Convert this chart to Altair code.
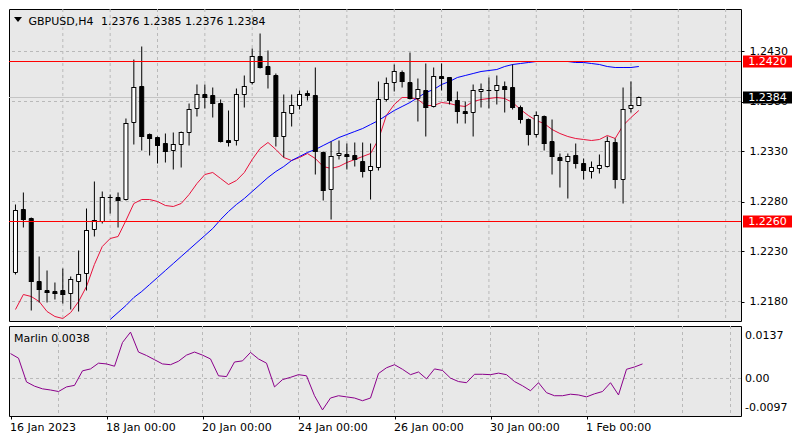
import altair as alt
import pandas as pd

# ---------------- data ----------------
symbol = "GBPUSD,H4"
tick_bars = [0, 12, 24, 36, 48, 60, 72]
tick_labels = ["16 Jan 2023", "18 Jan 00:00", "20 Jan 00:00", "24 Jan 00:00",
               "26 Jan 00:00", "30 Jan 00:00", "1 Feb 00:00"]
grid_bars = [6, 12, 18, 24, 30, 36, 42, 48, 54, 60, 66, 72, 78, 84, 90]
price_ticks = [1.2180, 1.2230, 1.2280, 1.2330, 1.2380, 1.2430]
levels = [1.2420, 1.2260]
osc_ticks = [0.0137, 0.0, -0.0097]
osc_tick_labels = ["0.0137", "0.00", "-0.0097"]

open_ = [1.2209, 1.2272, 1.2263, 1.2200, 1.2191, 1.2190, 1.2191, 1.2188, 1.2200, 1.2208,
         1.2252, 1.2260, 1.2284, 1.2284, 1.2282, 1.2359, 1.2395, 1.2347, 1.2344, 1.2338,
         1.2331, 1.2337, 1.2349, 1.2373, 1.2387, 1.2386, 1.2378, 1.2341, 1.2341, 1.2387,
         1.2399, 1.2425, 1.2415, 1.2406, 1.2345, 1.2368, 1.2376, 1.2388, 1.2386, 1.2329,
         1.2292, 1.2326, 1.2327, 1.2326, 1.2320, 1.2311, 1.2314, 1.2382, 1.2399, 1.2409,
         1.2399, 1.2383, 1.2391, 1.2375, 1.2405, 1.2404, 1.2381, 1.2370, 1.2369, 1.2390,
         1.2391, 1.2391, 1.2395, 1.2394, 1.2374, 1.2362, 1.2347, 1.2365, 1.2340, 1.2324,
         1.2320, 1.2326, 1.2318, 1.2310, 1.2313, 1.2315, 1.2339, 1.2302, 1.2373, 1.2376]
high = [1.2277, 1.2289, 1.2264, 1.2225, 1.2211, 1.2199, 1.2213, 1.2205, 1.2231, 1.2273,
        1.2300, 1.2290, 1.2287, 1.2289, 1.2363, 1.2422, 1.2435, 1.2348, 1.2345, 1.2348,
        1.2349, 1.2350, 1.2378, 1.2397, 1.2397, 1.2394, 1.2382, 1.2371, 1.2393, 1.2406,
        1.2433, 1.2448, 1.2431, 1.2408, 1.2387, 1.2387, 1.2391, 1.2391, 1.2414, 1.2330,
        1.2340, 1.2341, 1.2338, 1.2339, 1.2339, 1.2338, 1.2400, 1.2404, 1.2417, 1.2411,
        1.2429, 1.2403, 1.2418, 1.2414, 1.2418, 1.2404, 1.2390, 1.2380, 1.2397, 1.2398,
        1.2404, 1.2406, 1.2400, 1.2417, 1.2376, 1.2363, 1.2370, 1.2366, 1.2362, 1.2328,
        1.2328, 1.2338, 1.2323, 1.2320, 1.2327, 1.2345, 1.2343, 1.2394, 1.2400, 1.2385]
low = [1.2207, 1.2254, 1.2171, 1.2179, 1.2179, 1.2182, 1.2178, 1.2172, 1.2170, 1.2191,
       1.2245, 1.2258, 1.2268, 1.2254, 1.2281, 1.2337, 1.2331, 1.2326, 1.2318, 1.2319,
       1.2312, 1.2314, 1.2336, 1.2365, 1.2373, 1.2364, 1.2339, 1.2335, 1.2336, 1.2374,
       1.2397, 1.2413, 1.2393, 1.2335, 1.2324, 1.2355, 1.2372, 1.2381, 1.2307, 1.2281,
       1.2262, 1.2322, 1.2312, 1.2315, 1.2304, 1.2282, 1.2311, 1.2380, 1.2390, 1.2394,
       1.2382, 1.2360, 1.2345, 1.2374, 1.2391, 1.2377, 1.2358, 1.2358, 1.2345, 1.2374,
       1.2373, 1.2377, 1.2369, 1.2372, 1.2358, 1.2336, 1.2344, 1.2331, 1.2307, 1.2294,
       1.2283, 1.2313, 1.2302, 1.2303, 1.2308, 1.2314, 1.2293, 1.2278, 1.2369, 1.2376]
close = [1.2271, 1.2262, 1.2200, 1.2192, 1.2189, 1.2188, 1.2187, 1.2202, 1.2207, 1.2251,
         1.2261, 1.2284, 1.2284, 1.2281, 1.2358, 1.2394, 1.2345, 1.2343, 1.2336, 1.2330,
         1.2337, 1.2349, 1.2372, 1.2387, 1.2384, 1.2378, 1.2340, 1.2339, 1.2387, 1.2395,
         1.2425, 1.2414, 1.2407, 1.2345, 1.2369, 1.2376, 1.2387, 1.2386, 1.2330, 1.2291,
         1.2325, 1.2328, 1.2325, 1.2322, 1.2310, 1.2315, 1.2382, 1.2398, 1.2410, 1.2400,
         1.2383, 1.2392, 1.2374, 1.2405, 1.2403, 1.2381, 1.2370, 1.2368, 1.2391, 1.2392,
         1.2391, 1.2396, 1.2392, 1.2374, 1.2362, 1.2347, 1.2366, 1.2338, 1.2325, 1.2321,
         1.2325, 1.2318, 1.2311, 1.2314, 1.2316, 1.2340, 1.2302, 1.2372, 1.2376, 1.2384]
ma_fast = [1.2172, 1.2187, 1.2185, 1.2180, 1.2170, 1.2165, 1.2163, 1.2169, 1.2180, 1.2195,
           1.2217, 1.2235, 1.2243, 1.2245, 1.2261, 1.2278, 1.2282, 1.2282, 1.2280, 1.2276,
           1.2275, 1.2278, 1.2287, 1.2298, 1.2307, 1.2309, 1.2303, 1.2297, 1.2301, 1.2309,
           1.2322, 1.2333, 1.2339, 1.2332, 1.2324, 1.2321, 1.2324, 1.2328, 1.2323, 1.2315,
           1.2313, 1.2315, 1.2319, 1.2322, 1.2325, 1.2328, 1.2342, 1.2366, 1.2377, 1.2384,
           1.2384, 1.2382, 1.2376, 1.2376, 1.2379, 1.2378, 1.2376, 1.2375, 1.2380, 1.2382,
           1.2383, 1.2384, 1.2383, 1.2379, 1.2372, 1.2366, 1.2361, 1.2358, 1.2352, 1.2348,
           1.2345, 1.2343, 1.2342, 1.2341, 1.2342, 1.2346, 1.2343, 1.2356, 1.2364, 1.2371]
ma_slow_start = 12
ma_slow = [1.2162, 1.2169, 1.2176, 1.2184, 1.2190, 1.2197, 1.2204, 1.2211, 1.2218, 1.2225,
           1.2232, 1.2239, 1.2246, 1.2253, 1.2262, 1.2270, 1.2277, 1.2283, 1.2290, 1.2297,
           1.2304, 1.2310, 1.2315, 1.2321, 1.2325, 1.2329, 1.2332, 1.2336, 1.2340, 1.2344,
           1.2347, 1.2350, 1.2353, 1.2357, 1.2361, 1.2366, 1.2371, 1.2375, 1.2379, 1.2384,
           1.2389, 1.2392, 1.2397, 1.2400, 1.2404, 1.2406, 1.2408, 1.2410, 1.2411, 1.2412,
           1.2415, 1.2417, 1.2418, 1.2419, 1.2420, 1.2420, 1.2420, 1.2420, 1.2420, 1.2419,
           1.2419, 1.2418, 1.2417, 1.2415, 1.2414, 1.2414, 1.2414, 1.2415]
marlin = [0.0065, 0.0053, -0.0009, -0.0020, -0.0027, -0.0030, -0.0034, -0.0022, -0.0018, 0.0020,
          0.0025, 0.0040, 0.0038, 0.0032, 0.0094, 0.0121, 0.0069, 0.0060, 0.0049, 0.0038,
          0.0036, 0.0045, 0.0061, 0.0069, 0.0061, 0.0051, 0.0007, 0.0005, 0.0043, 0.0046,
          0.0068, 0.0051, 0.0040, -0.0022, -0.0003, 0.0003, 0.0010, 0.0007, -0.0045, -0.0082,
          -0.0051, -0.0045, -0.0048, -0.0051, -0.0058, -0.0051, 0.0013, 0.0028, 0.0036, 0.0024,
          0.0010, 0.0017, -0.0001, 0.0025, 0.0021, 0.0001, -0.0008, -0.0011, 0.0011, 0.0011,
          0.0010, 0.0014, 0.0010, -0.0008, -0.0019, -0.0032, -0.0011, -0.0037, -0.0045, -0.0045,
          -0.0041, -0.0043, -0.0048, -0.0040, -0.0034, -0.0011, -0.0043, 0.0024, 0.0030, 0.0038]

# ---------------- tables ----------------
n = len(close)
bars = pd.DataFrame({"bar": list(range(n)), "open": open_, "high": high,
                     "low": low, "close": close, "ma_fast": ma_fast, "marlin": marlin})
slow_df = pd.DataFrame({"bar": list(range(ma_slow_start, ma_slow_start + len(ma_slow))),
                        "ma_slow": ma_slow})
grid_df = pd.DataFrame({"bar": grid_bars})
pgrid_df = pd.DataFrame({"price": price_ticks})
level_df = pd.DataFrame({"price": levels})
last_price = close[-1]
box_df = pd.DataFrame({"price": levels + [last_price],
                       "label": [f"{v:.4f}" for v in levels + [last_price]],
                       "kind": ["level"] * len(levels) + ["last"]})
ohlc_text = " ".join(f"{v:.4f}" for v in (open_[-1], high[-1], low[-1], close[-1]))

# ---------------- layout / style ----------------
# 8 px per bar and 1 px per pip so that 1-px lines fall on pixel centres
W, H1, H2 = 732, 312, 90
FONT = "DejaVu Sans"
GRID = "#b9b9b9"
xscale = alt.Scale(domain=[-0.1875, 91.3125], nice=False, zero=False)
yscale = alt.Scale(domain=[1.21605, 1.24725], nice=False, zero=False)
oscale = alt.Scale(domain=[-0.00979, 0.0137], nice=False, zero=False)

X = alt.X("bar:Q", scale=xscale, axis=None)

price_axis = alt.Axis(orient="right", values=price_ticks, format=".4f", grid=False,
                      domain=False, ticks=True, tickSize=3, tickColor="black",
                      labelFont=FONT, labelFontSize=11, labelColor="black",
                      labelPadding=5, title=None, labelOverlap=False, labelFlush=False)


def PY(field):
    return alt.Y(field, scale=yscale, axis=price_axis, title=None)


hgrid = alt.Chart(pgrid_df).mark_rule(color=GRID, strokeDash=[3, 3], strokeWidth=1).encode(
    y=PY("price:Q"))
vgrid = alt.Chart(grid_df).mark_rule(color=GRID, strokeDash=[3, 3], strokeWidth=1).encode(x=X)
bid = alt.Chart(pd.DataFrame({"price": [last_price]})).mark_rule(
    color="#c4c4c4", strokeWidth=1).encode(y=PY("price:Q"))

fast = alt.Chart(bars).mark_line(color="#e8123c", strokeWidth=1, clip=True).encode(
    x=X, y=PY("ma_fast:Q"))
slow = alt.Chart(slow_df).mark_line(color="#0000ff", strokeWidth=1, clip=True).encode(
    x=X, y=PY("ma_slow:Q"))

wick = alt.Chart(bars).mark_rule(color="black", strokeWidth=1).encode(
    x=X, y=PY("low:Q"), y2="high:Q")
body = alt.Chart(bars).mark_bar(size=4, stroke="black", strokeWidth=1).encode(
    x=X, y=PY("open:Q"), y2="close:Q",
    fill=alt.condition("datum.close >= datum.open", alt.value("white"), alt.value("black")))
tick_close = alt.Chart(bars).mark_tick(orient="horizontal", size=5, thickness=1,
                                       color="black").encode(
    x=X, y=PY("close:Q"))

lvl = alt.Chart(level_df).mark_rule(color="#ff0000", strokeWidth=1).encode(
    y=PY("price:Q"))

boxes = alt.Chart(box_df).transform_calculate(
    lo="datum.price - 0.0006", hi="datum.price + 0.0006"
).mark_rect().encode(
    x=alt.value(W + 2), x2=alt.value(W + 51),
    y=PY("lo:Q"), y2="hi:Q",
    fill=alt.condition("datum.kind == 'last'", alt.value("black"), alt.value("#ff0000")))
box_text = alt.Chart(box_df).mark_text(font=FONT, fontSize=11, color="white",
                                       align="center", baseline="middle", dy=0.5).encode(
    x=alt.value(W + 26.5), y=PY("price:Q"), text="label:N")

tri = alt.Chart(pd.DataFrame({"s": [symbol]})).mark_point(
    shape="M-1,-0.6L1,-0.6L0,0.6Z", size=64, filled=True, color="black", opacity=1).encode(
    x=alt.value(9), y=alt.value(10.5))
title1 = alt.Chart(pd.DataFrame({"t": [symbol]})).mark_text(
    font=FONT, fontSize=11, color="black", align="left", baseline="alphabetic").encode(
    x=alt.value(19.5), y=alt.value(15.5), text="t:N")
title2 = alt.Chart(pd.DataFrame({"t": [ohlc_text]})).mark_text(
    font=FONT, fontSize=11, color="black", align="left", baseline="alphabetic").encode(
    x=alt.value(92), y=alt.value(15.5), text="t:N")

main = alt.layer(hgrid, vgrid, bid, fast, slow, wick, body, tick_close, lvl,
                 boxes, box_text, tri, title1, title2).properties(width=W, height=H1)

# ---------------- oscillator ----------------
label_expr = " : ".join(f"datum.value == {b} ? '{t}'" for b, t in zip(tick_bars, tick_labels)) + " : ''"
time_axis = alt.Axis(values=tick_bars, labelExpr=label_expr, labelAlign="left", labelOffset=-1,
                     grid=False, domain=False, ticks=True, tickSize=3, tickColor="black",
                     labelFont=FONT, labelFontSize=11, labelColor="black", labelPadding=2,
                     title=None, labelOverlap=False, labelFlush=False, labelBound=False)


def TX(field):
    return alt.X(field, scale=xscale, axis=time_axis, title=None)


OY = alt.Y("v:Q", scale=oscale, axis=None)

ovgrid = alt.Chart(grid_df).mark_rule(color=GRID, strokeDash=[3, 3], strokeWidth=1).encode(
    x=TX("bar:Q"))
ozero = alt.Chart(pd.DataFrame({"v": [0.0]})).mark_rule(
    color=GRID, strokeDash=[3, 3], strokeWidth=1).encode(y=OY)
oline = alt.Chart(bars).mark_line(color="#8b008b", strokeWidth=1, clip=True).encode(
    x=TX("bar:Q"),
    y=alt.Y("marlin:Q", scale=oscale, axis=None))
oname = alt.Chart(pd.DataFrame({"t": [f"Marlin {marlin[-1]:.4f}"]})).mark_text(
    font=FONT, fontSize=11, color="black", align="left", baseline="alphabetic").encode(
    x=alt.value(5), y=alt.value(16), text="t:N")

olabels = []
for v, t, dy in zip(osc_ticks, osc_tick_labels, [10, 0.5, -8]):
    olabels.append(
        alt.Chart(pd.DataFrame({"v": [v], "t": [t]})).mark_text(
            font=FONT, fontSize=11, color="black", align="left", baseline="middle", dy=dy
        ).encode(x=alt.value(W + 4), y=OY, text="t:N"))

osc = alt.layer(ovgrid, ozero, oline, oname, *olabels).properties(width=W, height=H2)

chart = alt.vconcat(main, osc, spacing=3,
                    padding={"left": 0, "top": 0, "right": 0, "bottom": 0},
                    background="white").configure_view(
    stroke="black", strokeWidth=1, fill="#e8e8e8")

chart.save("out.html", embed_options={"renderer": "svg", "actions": False})
